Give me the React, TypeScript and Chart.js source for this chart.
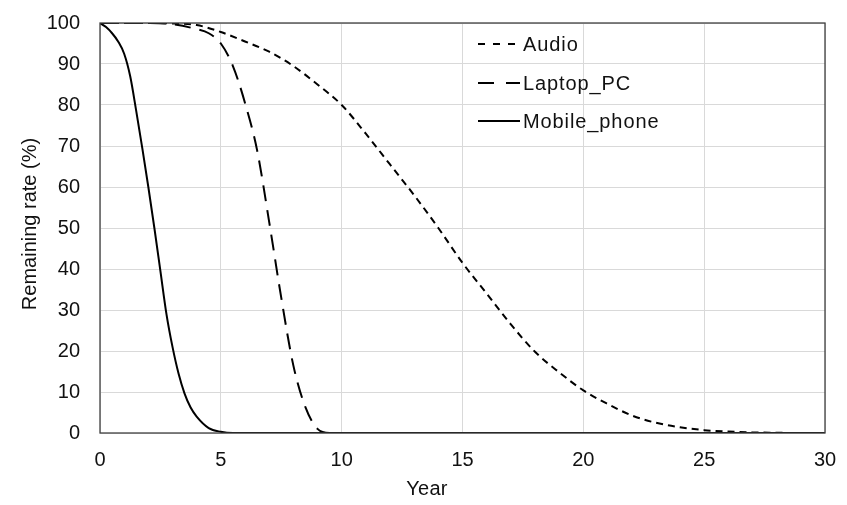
import React, { useEffect, useRef } from "react";
import { Chart, registerables } from "chart.js";

Chart.register(...registerables);

const seriesNames = ["Audio", "Laptop_PC", "Mobile_phone"];

const audioYears = [0, 1, 2, 3, 4, 5, 6, 7, 8, 9, 10, 11, 12, 13, 14, 15, 16, 17, 18, 19, 20, 21, 22, 23, 24, 25, 26, 27, 28, 29, 30];
const audioRate = [100, 100, 100, 99.9, 99.5, 97.8, 95.5, 93, 89.5, 85, 80, 73, 65.5, 58, 50, 41.5, 34, 26.5, 19.8, 14.8, 10.4, 7.1, 4.3, 2.5, 1.4, 0.7, 0.35, 0.15, 0.05, 0, 0];

const laptopYears = [0, 1, 2, 3, 4, 4.5, 5, 5.5, 6, 6.5, 7, 7.5, 8, 8.5, 9, 9.5, 10, 30];
const laptopRate = [100, 100, 100, 99.7, 98.5, 97.5, 95, 89.5, 80.5, 69, 51.5, 33, 16.5, 6.3, 1.0, 0, 0, 0];

const mobileYears = [0, 0.25, 0.5, 0.75, 1, 1.25, 1.5, 1.75, 2, 2.25, 2.5, 2.75, 3, 3.25, 3.5, 3.75, 4, 4.5, 5, 5.5, 6, 30];
const mobileRate = [100, 99, 97.5, 95.5, 92.5, 87, 78.5, 69.5, 60, 50, 39.5, 29, 21, 14.5, 9.6, 6.2, 4.0, 1.2, 0.3, 0, 0, 0];

const xTickValues = [0, 5, 10, 15, 20, 25, 30];
const yTickValues = [0, 10, 20, 30, 40, 50, 60, 70, 80, 90, 100];

const xTitle = "Year";
const yTitle = "Remaining rate (%)";

const FONT = "'Liberation Sans', Arial, sans-serif";

export default function App() {
  const ref = useRef<HTMLCanvasElement | null>(null);

  useEffect(() => {
    if (!ref.current) return;
    const toPts = (xs: number[], ys: number[]) => xs.map((x, i) => ({ x, y: ys[i] }));

    const dashes: number[][] = [[7, 5], [16, 9], []];
    const legendDashes: number[][] = [[7, 8], [16, 12], []];

    const decor = {
      id: "decor",
      afterDraw(chart: any) {
        const { ctx, chartArea } = chart;
        ctx.save();
        ctx.strokeStyle = "#404040";
        ctx.lineWidth = 1.3;
        ctx.setLineDash([]);
        ctx.strokeRect(chartArea.left, chartArea.top, chartArea.right - chartArea.left, chartArea.bottom - chartArea.top);

        const rows = [44, 83, 121];
        ctx.font = `20px ${FONT}`;
        ctx.fillStyle = "#111";
        ctx.textAlign = "left";
        ctx.textBaseline = "middle";
        seriesNames.forEach((name, i) => {
          const y = rows[i];
          ctx.beginPath();
          ctx.strokeStyle = "#000";
          ctx.lineWidth = 2;
          ctx.setLineDash(legendDashes[i]);
          ctx.moveTo(478, y);
          ctx.lineTo(520, y);
          ctx.stroke();
          ctx.setLineDash([]);
          (ctx as any).letterSpacing = "0.9px";
          ctx.fillText(name, 523, y + 1);
          (ctx as any).letterSpacing = "0px";
        });

        ctx.textAlign = "center";
        ctx.textBaseline = "middle";
        (ctx as any).letterSpacing = "0.3px";
        ctx.fillText(xTitle, 427, 489);
        (ctx as any).letterSpacing = "0px";
        ctx.translate(30, 224);
        ctx.rotate(-Math.PI / 2);
        ctx.fillText(yTitle, 0, 0);
        ctx.restore();
      },
    };

    const datasets = [
      { label: seriesNames[0], data: toPts(audioYears, audioRate) },
      { label: seriesNames[1], data: toPts(laptopYears, laptopRate) },
      { label: seriesNames[2], data: toPts(mobileYears, mobileRate) },
    ].map((d, i) => ({
      ...d,
      borderColor: "#000",
      backgroundColor: "#000",
      borderWidth: 2,
      borderDash: dashes[i],
      pointRadius: 0,
      fill: false,
      cubicInterpolationMode: "monotone" as const,
    }));

    const chart = new Chart(ref.current, {
      type: "line",
      data: { datasets },
      options: {
        animation: false,
        responsive: false,
        maintainAspectRatio: false,
        layout: { padding: { top: 23, right: 22, left: 0, bottom: 0 } },
        plugins: { legend: { display: false }, tooltip: { enabled: false } },
        scales: {
          x: {
            type: "linear",
            min: 0,
            max: 30,
            afterBuildTicks: (scale: any) => {
              scale.ticks = xTickValues.map((v) => ({ value: v }));
            },
            afterFit: (scale: any) => {
              scale.height = 72;
              scale.paddingLeft = 0;
              scale.paddingRight = 0;
            },
            ticks: { font: { size: 20, family: FONT }, color: "#111", padding: 15, maxRotation: 0 },
            grid: { color: "#d9d9d9", lineWidth: 1, drawTicks: false },
            border: { display: false },
          },
          y: {
            type: "linear",
            min: 0,
            max: 100,
            afterBuildTicks: (scale: any) => {
              scale.ticks = yTickValues.map((v) => ({ value: v }));
            },
            afterFit: (scale: any) => {
              scale.width = 100;
              scale.paddingTop = 0;
              scale.paddingBottom = 0;
            },
            ticks: { font: { size: 20, family: FONT }, color: "#111", padding: 20 },
            grid: { color: "#d9d9d9", lineWidth: 1, drawTicks: false },
            border: { display: false },
          },
        },
      },
      plugins: [decor],
    });
    return () => chart.destroy();
  }, []);

  return (
    <div style={{ position: "fixed", left: 0, top: 0, width: 847, height: 505, background: "#fff" }}>
      <canvas ref={ref} width={847} height={505} style={{ width: 847, height: 505, display: "block" }} />
    </div>
  );
}
